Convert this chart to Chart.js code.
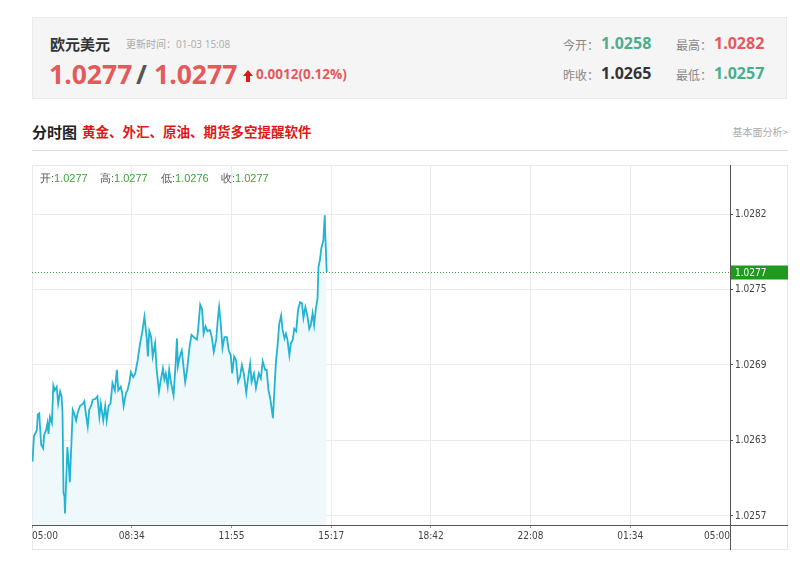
<!DOCTYPE html>
<html>
<head>
<meta charset="utf-8">
<script src="https://cdn.jsdelivr.net/npm/chart.js@4.4.0/dist/chart.umd.min.js"></script>
<style>
  body { margin: 0; background: #fff; font-family: "Noto Sans CJK SC", "Open Sans", sans-serif; }
  .abs { position: absolute; white-space: nowrap; line-height: 1; }
  #head { position: absolute; left: 32px; top: 17px; width: 755px; height: 82px; background: #f5f5f5; border: 1px solid #ececec; box-sizing: border-box; }
  .num { font-family: "Open Sans", sans-serif; font-weight: 700; }
  .lbl { font-size: 12px; color: #888; }
  #box { position: absolute; left: 32px; top: 165px; width: 756px; height: 385px; border: 1px solid #e6e6e6; box-sizing: border-box; }
  #wrap { position: absolute; left: 32px; top: 165px; width: 756px; height: 385px; }
  .ohlc { font-family: "Liberation Sans", sans-serif; font-size: 11px; color: #555; top: 173px; }
  .ohlc b { font-weight: normal; color: #3fa33f; }
</style>
</head>
<body>
<div id="head"></div>
<div class="abs" style="left:50px;top:36px;font-size:15px;font-weight:700;color:#333;">欧元美元</div>
<div class="abs" style="left:126px;top:39px;font-size:10px;color:#aaa;">更新时间：<span style="font-family:'Open Sans'">01-03 15:08</span></div>
<div class="abs num" style="left:49px;top:61px;font-size:26.5px;color:#e45a5a;">1.0277</div>
<div class="abs num" style="left:136px;top:61px;font-size:26.5px;color:#555;">/</div>
<div class="abs num" style="left:154px;top:61px;font-size:26.5px;color:#e45a5a;">1.0277</div>
<svg class="abs" style="left:243px;top:70px;" width="10" height="12" viewBox="0 0 10 12"><path d="M5 0 L10 6 L7 6 L7 12 L3 12 L3 6 L0 6 Z" fill="#e01818"/></svg>
<div class="abs num" style="left:256px;top:68px;font-size:13.5px;color:#e45a5a;">0.0012(0.12%)</div>

<div class="abs lbl" style="left:563px;top:39px;">今开：</div>
<div class="abs num" style="left:601px;top:35px;font-size:16px;color:#4aae8c;">1.0258</div>
<div class="abs lbl" style="left:676px;top:39px;">最高：</div>
<div class="abs num" style="left:714px;top:35px;font-size:16px;color:#e45a5a;">1.0282</div>
<div class="abs lbl" style="left:563px;top:69px;">昨收：</div>
<div class="abs num" style="left:601px;top:65px;font-size:16px;color:#333;">1.0265</div>
<div class="abs lbl" style="left:676px;top:69px;">最低：</div>
<div class="abs num" style="left:714px;top:65px;font-size:16px;color:#4aae8c;">1.0257</div>

<div class="abs" style="left:32px;top:124px;font-size:15px;font-weight:700;color:#222;">分时图</div>
<div class="abs" style="left:82px;top:125px;font-size:13.5px;font-weight:700;color:#e01818;">黄金、外汇、原油、期货多空提醒软件</div>
<div class="abs" style="right:12px;top:127px;font-size:10px;color:#aaa;">基本面分析&gt;</div>
<div style="position:absolute;left:32px;top:150px;width:756px;height:1px;background:#ddd;"></div>

<div id="box"></div>
<div id="wrap"><canvas id="minuteChart" width="756" height="385"></canvas></div>
<div class="abs ohlc" style="left:40px;">开:<b>1.0277</b></div>
<div class="abs ohlc" style="left:100px;">高:<b>1.0277</b></div>
<div class="abs ohlc" style="left:161px;">低:<b>1.0276</b></div>
<div class="abs ohlc" style="left:221px;">收:<b>1.0277</b></div>

<script>
// minutes after 05:00
var times = [1,4,10,12,15,17,19,23,25,29,32,34,37,41,44,47,51,54,58,61,63,65,67,68,70,73,76,78,81,84,87,91,94,99,105,108,111,115,118,122,125,131,135,139,142,147,151,154,158,162,166,171,175,178,183,186,189,194,197,201,204,209,213,218,223,227,232,237,239,242,246,249,254,257,262,265,270,273,276,280,283,287,292,296,299,301,305,309,312,316,320,325,329,334,340,342,347,351,354,358,362,367,371,375,380,384,386,389,393,397,402,406,410,413,417,421,425,429,433,437,442,446,450,453,458,462,468,472,476,481,484,488,492,497,500,503,507,510,514,517,521,524,527,531,534,538,541,545,549,553,557,560,564,568,572,575,579,582,586,589,591,594,597,601,604,605,608];
var prices = [1.02615,1.02636,1.02641,1.02654,1.02655,1.02641,1.02629,1.02626,1.02637,1.02641,1.02647,1.02638,1.02652,1.02647,1.02678,1.02674,1.02677,1.02663,1.02673,1.02669,1.02655,1.02589,1.02586,1.02572,1.02594,1.02627,1.02611,1.02598,1.02627,1.02658,1.02655,1.02649,1.02655,1.02661,1.02663,1.02665,1.02655,1.02644,1.02658,1.02661,1.02666,1.02667,1.02669,1.02652,1.02663,1.02649,1.02661,1.02649,1.02661,1.02663,1.02680,1.02674,1.02691,1.02674,1.02677,1.02672,1.02661,1.02672,1.02674,1.02681,1.02689,1.02685,1.02688,1.02699,1.02713,1.02721,1.02735,1.02716,1.02702,1.02723,1.02718,1.02702,1.02713,1.02692,1.02673,1.02681,1.02692,1.02683,1.02688,1.02677,1.02691,1.02680,1.02670,1.02694,1.02717,1.02694,1.02702,1.02707,1.02696,1.02681,1.02691,1.02710,1.02720,1.02718,1.02716,1.02721,1.02745,1.02741,1.02721,1.02727,1.02723,1.02724,1.02718,1.02706,1.02716,1.02736,1.02743,1.02731,1.02709,1.02718,1.02718,1.02707,1.02703,1.02688,1.02702,1.02699,1.02681,1.02685,1.02695,1.02688,1.02672,1.02685,1.02696,1.02681,1.02688,1.02676,1.02688,1.02684,1.02698,1.02691,1.02691,1.02674,1.02666,1.02651,1.02674,1.02696,1.02713,1.02729,1.02736,1.02724,1.02717,1.02721,1.02716,1.02703,1.02713,1.02716,1.02725,1.02723,1.02741,1.02747,1.02746,1.02734,1.02743,1.02736,1.02725,1.02728,1.02738,1.02728,1.02743,1.02750,1.02776,1.02782,1.02792,1.02798,1.02819,1.02804,1.02772];

var xTickLabels = ['05:00','08:34','11:55','15:17','18:42','22:08','01:34','05:00'];
var yTickValues = [1.0257, 1.026325, 1.02695, 1.027575, 1.0282];
var lastPrice = prices[prices.length - 1];

var points = times.map(function (t, i) { return { x: t, y: prices[i] }; });

var axisFont = { family: 'DejaVu Sans Condensed, DejaVu Sans, sans-serif', size: 10 };

var axesPlugin = {
    id: 'axesPlugin',
    afterDraw: function (chart) {
        var ctx = chart.ctx, a = chart.chartArea;
        var y = Math.round(chart.scales.y.getPixelForValue(lastPrice)) + 0.5;
        ctx.save();
        // last price dotted line
        ctx.strokeStyle = '#3c9e3c';
        ctx.lineWidth = 1;
        ctx.setLineDash([1, 2]);
        ctx.beginPath();
        ctx.moveTo(a.left, y);
        ctx.lineTo(a.right, y);
        ctx.stroke();
        ctx.setLineDash([]);
        // axis lines
        ctx.strokeStyle = '#555';
        ctx.beginPath();
        ctx.moveTo(Math.round(a.right) + 0.5, 0);
        ctx.lineTo(Math.round(a.right) + 0.5, chart.height);
        ctx.moveTo(a.left, Math.round(a.bottom) + 0.5);
        ctx.lineTo(chart.width, Math.round(a.bottom) + 0.5);
        ctx.stroke();
        // price tag
        ctx.fillStyle = '#1f9a1f';
        ctx.fillRect(a.right + 1, y - 7, chart.width - a.right - 1, 14);
        ctx.fillStyle = '#fff';
        ctx.font = '10px "DejaVu Sans Condensed", "DejaVu Sans", sans-serif';
        ctx.textBaseline = 'middle';
        ctx.fillText(lastPrice.toFixed(4), a.right + 5, y + 0.5);
        ctx.restore();
    }
};

var ctx = document.getElementById('minuteChart').getContext('2d');
var minuteChart = new Chart(ctx, {
    type: 'line',
    data: {
        datasets: [{
            data: points,
            borderColor: '#22b4d2',
            borderWidth: 1.8,
            backgroundColor: '#eff9fc',
            fill: 'start',
            pointRadius: 0,
            tension: 0
        }]
    },
    options: {
        responsive: false,
        animation: false,
        plugins: { legend: { display: false }, tooltip: { enabled: false } },
        layout: { padding: 0 },
        scales: {
            x: {
                type: 'linear',
                min: 0,
                max: 1440,
                afterBuildTicks: function (scale) {
                    scale.ticks = xTickLabels.map(function (l, i) { return { value: i * 1440 / 7 }; });
                },
                afterFit: function (scale) {
                    scale.height = 25;
                    scale.paddingLeft = 0;
                    scale.paddingRight = 0;
                },
                grid: { color: '#eaeaea', tickLength: 3, tickColor: '#999' },
                border: { display: false },
                ticks: {
                    align: 'inner',
                    maxRotation: 0,
                    padding: 2,
                    color: '#444',
                    font: axisFont,
                    callback: function (v, i) { return xTickLabels[i]; }
                }
            },
            y: {
                position: 'right',
                min: 1.025625,
                max: 1.028606,
                afterBuildTicks: function (scale) {
                    scale.ticks = yTickValues.map(function (v) { return { value: v }; });
                },
                afterFit: function (scale) {
                    scale.width = 58;
                    scale.paddingTop = 0;
                    scale.paddingBottom = 0;
                },
                grid: { color: '#eaeaea', tickLength: 3, tickColor: '#555' },
                border: { display: false },
                ticks: {
                    padding: 2,
                    color: '#444',
                    font: axisFont,
                    callback: function (v) { return (Math.floor(v * 10000 + 1e-6) / 10000).toFixed(4); }
                }
            }
        }
    },
    plugins: [axesPlugin]
});
</script>
</body>
</html>
